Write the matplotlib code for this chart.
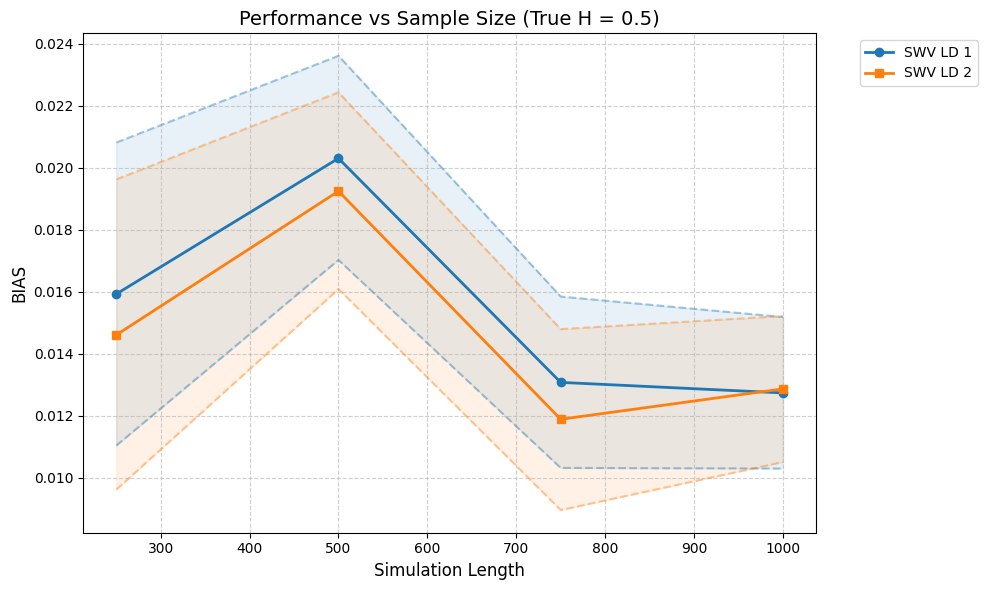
import matplotlib.pyplot as plt
import numpy as np

# sample sizes
lengths = [250, 500, 750, 1000]

# SWV LD 1
bias_1 = [0.01592, 0.02030, 0.01307, 0.01273]
upper_1 = [0.02081, 0.02361, 0.01584, 0.01518]
lower_1 = [0.01103, 0.01702, 0.01031, 0.01029]

# SWV LD 2
bias_2 = [0.01460, 0.01924, 0.01188, 0.01286]
upper_2 = [0.01962, 0.02243, 0.01479, 0.01521]
lower_2 = [0.00961, 0.01608, 0.00895, 0.01050]

series = [
    ("SWV LD 1", bias_1, upper_1, lower_1, "tab:blue", "o"),
    ("SWV LD 2", bias_2, upper_2, lower_2, "tab:orange", "s"),
]

fig, ax = plt.subplots(figsize=(9.87, 5.9), dpi=100)
for name, bias, upper, lower, col, mk in series:
    ax.plot(lengths, bias, color=col, marker=mk, lw=2, label=name)
    ax.fill_between(lengths, lower, upper, color=col, alpha=0.1)
    ax.plot(lengths, upper, color=col, ls="--", alpha=0.4)
    ax.plot(lengths, lower, color=col, ls="--", alpha=0.4)

ax.set_title("Performance vs Sample Size (True H = 0.5)", fontsize=14)
ax.set_xlabel("Simulation Length", fontsize=12)
ax.set_ylabel("BIAS", fontsize=12)
ax.grid(True, ls="--", alpha=0.6)
ax.legend(bbox_to_anchor=(1.05, 1), loc="upper left")
fig.subplots_adjust(left=0.084, right=0.827, bottom=0.097, top=0.944)
fig.savefig("out.png", dpi=100)
plt.close()
